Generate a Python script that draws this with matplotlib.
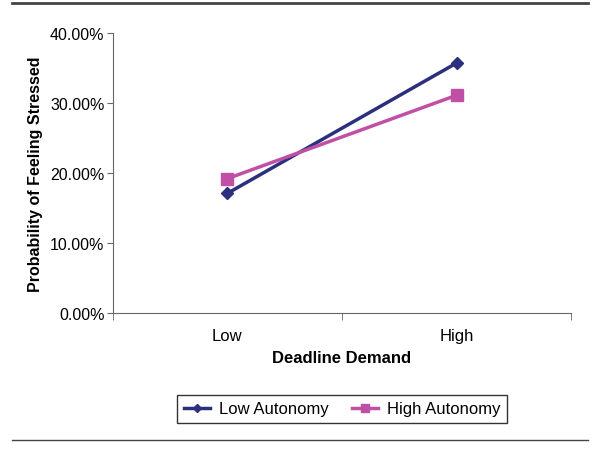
import matplotlib.pyplot as plt
from matplotlib.lines import Line2D
from matplotlib.ticker import FuncFormatter, FixedLocator

categories = ["Low", "High"]
low_autonomy = [17.1, 35.7]
high_autonomy = [19.2, 31.1]

navy = "#2B2F7E"
magenta = "#C04FA6"
gray = "#666666"

plt.rcParams['font.family'] = ['Liberation Sans', 'DejaVu Sans']

fig = plt.figure(figsize=(6, 4.52), dpi=100)
ax = fig.add_axes([0.188, 0.305, 0.764, 0.62])

x = list(range(len(categories)))
ax.plot(x, low_autonomy, color=navy, lw=2.5, marker="D", ms=6, label="Low Autonomy")
ax.plot(x, high_autonomy, color=magenta, lw=2.5, marker="s", ms=8, label="High Autonomy")

ax.set_xlim(-0.5, 1.5)
ax.set_ylim(0, 40)
ax.set_yticks([0, 10, 20, 30, 40])
ax.yaxis.set_major_formatter(FuncFormatter(lambda v, p: f"{v:.2f}%"))
ax.set_xticks(x)
ax.set_xticklabels(categories)
ax.xaxis.set_minor_locator(FixedLocator([-0.5, 0.5, 1.5]))
ax.tick_params(axis="x", which="major", length=0, pad=11, labelsize=12)
ax.tick_params(axis="x", which="minor", length=5, color=gray)
ax.tick_params(axis="y", length=4, color=gray, labelsize=11.5, pad=2)

for s in ["top", "right"]:
    ax.spines[s].set_visible(False)
for s in ["left", "bottom"]:
    ax.spines[s].set_color(gray)

ax.set_ylabel("Probability of Feeling Stressed", fontsize=11.5, fontweight="bold", labelpad=5)
ax.set_xlabel("Deadline Demand", fontsize=12, fontweight="bold", labelpad=5)

fig.legend(loc="center", bbox_to_anchor=(0.57, 0.093), ncol=2, fontsize=12,
           frameon=True, fancybox=False, edgecolor="#333333", framealpha=1,
           handlelength=1.6, handletextpad=0.5, columnspacing=1.4, borderpad=0.4,
           markerscale=0.75)

fig.add_artist(Line2D([0.02, 0.98], [0.992, 0.992], color="#444444", lw=2))
fig.add_artist(Line2D([0.02, 0.98], [0.025, 0.025], color="#444444", lw=1))

fig.savefig("out.png", dpi=100)
